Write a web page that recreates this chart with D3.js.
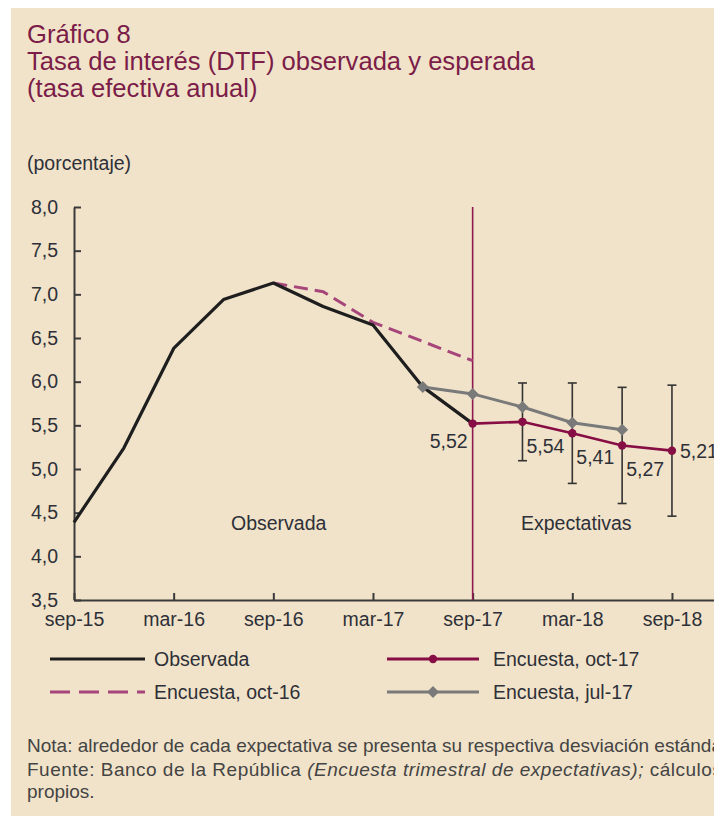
<!DOCTYPE html>
<html>
<head>
<meta charset="utf-8">
<script src="https://cdn.jsdelivr.net/npm/d3@7"></script>
<style>
  body { margin: 0; background: #fff; }
  svg { display: block; font-family: "Liberation Sans", Arial, sans-serif; }
</style>
</head>
<body>
<svg width="714" height="817"></svg>
<script>
  // trimestres, sep-15 .. dic-18
  const quarters = ['sep-15', 'dic-15', 'mar-16', 'jun-16', 'sep-16', 'dic-16', 'mar-17',
    'jun-17', 'sep-17', 'dic-17', 'mar-18', 'jun-18', 'sep-18', 'dic-18'];
  const xTickLabels = ['sep-15', 'mar-16', 'sep-16', 'mar-17', 'sep-17', 'mar-18', 'sep-18'];
  const yTicks = [3.5, 4.0, 4.5, 5.0, 5.5, 6.0, 6.5, 7.0, 7.5, 8.0];

  // series (porcentaje)
  const observadaQ = quarters.slice(0, 9);
  const observada = [4.39, 5.24, 6.38, 6.94, 7.13, 6.86, 6.65, 5.94, 5.52];
  const encOct16Q = quarters.slice(4, 9);
  const encOct16 = [7.13, 7.03, 6.68, 6.46, 6.24];
  const encJul17Q = quarters.slice(7, 12);
  const encJul17 = [5.94, 5.86, 5.71, 5.53, 5.45];
  const encOct17Q = quarters.slice(8, 13);
  const encOct17 = [5.52, 5.54, 5.41, 5.27, 5.21];
  const encOct17Desv = [0, 0.445, 0.575, 0.665, 0.75];

  const svg = d3.select('svg');
  const width = +svg.attr('width');
  const height = +svg.attr('height');

  const maroon = '#870d45';
  const pink = '#a5457a';
  const grey = '#7a7a7a';
  const ink = '#2e3038';
  const fmt = v => v.toFixed(2).replace('.', ',');

  svg.append('rect')
    .attr('x', 11).attr('y', 8)
    .attr('width', width - 11).attr('height', height - 9)
    .attr('fill', '#f1e3c9');

  // títulos
  const titles = ['Gráfico 8', 'Tasa de interés (DTF) observada y esperada', '(tasa efectiva anual)'];
  svg.selectAll('.title').data(titles)
    .enter().append('text')
      .attr('class', 'title')
      .attr('x', 27)
      .attr('y', (d, i) => 43 + i * 26.8)
      .attr('fill', '#7b1d48')
      .attr('font-size', 25.6)
      .text(d => d);

  svg.append('text')
    .attr('x', 27).attr('y', 170)
    .attr('font-size', 19.5)
    .attr('fill', ink)
    .text('(porcentaje)');

  const xScale = d3.scalePoint()
    .domain(quarters)
    .range([74, 74 + 13 * 49.83]);

  const yScale = d3.scaleLinear()
    .domain([3.5, 8])
    .range([600, 207]);

  // ejes
  const yAxis = d3.axisLeft(yScale)
    .tickValues(yTicks)
    .tickFormat(d => d.toFixed(1).replace('.', ','))
    .tickSizeInner(-7)
    .tickSizeOuter(0)
    .tickPadding(16);

  const xAxis = d3.axisBottom(xScale)
    .tickValues(xTickLabels)
    .tickSizeInner(-7)
    .tickSizeOuter(0)
    .tickPadding(12);

  const styleAxis = g => {
    g.selectAll('.domain, .tick line')
      .attr('stroke', '#3a3a3a')
      .attr('stroke-width', 2);
    g.selectAll('.tick text')
      .attr('fill', ink)
      .attr('font-size', 19.5)
      .attr('font-family', '"Liberation Sans", Arial, sans-serif');
  };

  svg.append('g')
    .attr('transform', `translate(${xScale('sep-15')},0)`)
    .call(yAxis)
    .call(styleAxis);

  svg.append('g')
    .attr('transform', `translate(0,${yScale(3.5)})`)
    .call(xAxis)
    .call(styleAxis);

  // línea vertical sep-17
  svg.append('line')
    .attr('x1', xScale('sep-17')).attr('x2', xScale('sep-17'))
    .attr('y1', yScale(8)).attr('y2', yScale(3.5))
    .attr('stroke', '#8e1a50')
    .attr('stroke-width', 1.6);

  svg.append('text')
    .attr('x', 231).attr('y', 530)
    .attr('font-size', 19.5).attr('fill', ink)
    .text('Observada');
  svg.append('text')
    .attr('x', 521).attr('y', 530)
    .attr('font-size', 19.5).attr('fill', ink)
    .text('Expectativas');

  const line = d3.line()
    .x(d => xScale(d[0]))
    .y(d => yScale(d[1]));

  const pairs = (qs, vs) => qs.map((q, i) => [q, vs[i]]);

  // desviaciones estándar
  const bars = pairs(encOct17Q, encOct17).map((d, i) => ({ q: d[0], v: d[1], s: encOct17Desv[i] }))
    .filter(d => d.s > 0);
  const barG = svg.append('g')
    .attr('stroke', '#333')
    .attr('stroke-width', 1.6);
  barG.selectAll('.bar').data(bars)
    .enter().append('line')
      .attr('x1', d => xScale(d.q)).attr('x2', d => xScale(d.q))
      .attr('y1', d => yScale(d.v + d.s)).attr('y2', d => yScale(d.v - d.s));
  barG.selectAll('.capTop').data(bars)
    .enter().append('line')
      .attr('x1', d => xScale(d.q) - 4.5).attr('x2', d => xScale(d.q) + 4.5)
      .attr('y1', d => yScale(d.v + d.s)).attr('y2', d => yScale(d.v + d.s));
  barG.selectAll('.capBot').data(bars)
    .enter().append('line')
      .attr('x1', d => xScale(d.q) - 4.5).attr('x2', d => xScale(d.q) + 4.5)
      .attr('y1', d => yScale(d.v - d.s)).attr('y2', d => yScale(d.v - d.s));

  svg.append('path')
    .datum(pairs(encOct16Q, encOct16))
    .attr('d', line)
    .attr('fill', 'none')
    .attr('stroke', pink)
    .attr('stroke-width', 3)
    .attr('stroke-dasharray', '14,7');

  svg.append('path')
    .datum(pairs(observadaQ, observada))
    .attr('d', line)
    .attr('fill', 'none')
    .attr('stroke', '#1e1e1e')
    .attr('stroke-width', 3.2)
    .attr('stroke-linejoin', 'round');

  svg.append('path')
    .datum(pairs(encJul17Q, encJul17))
    .attr('d', line)
    .attr('fill', 'none')
    .attr('stroke', grey)
    .attr('stroke-width', 3);

  const diamond = d3.symbol().type(d3.symbolSquare).size(72);
  svg.selectAll('.diamond').data(pairs(encJul17Q, encJul17))
    .enter().append('path')
      .attr('d', diamond)
      .attr('transform', d => `translate(${xScale(d[0])},${yScale(d[1])}) rotate(45)`)
      .attr('fill', grey);

  svg.append('path')
    .datum(pairs(encOct17Q, encOct17))
    .attr('d', line)
    .attr('fill', 'none')
    .attr('stroke', maroon)
    .attr('stroke-width', 2.6);

  svg.selectAll('.dot').data(pairs(encOct17Q, encOct17))
    .enter().append('circle')
      .attr('cx', d => xScale(d[0]))
      .attr('cy', d => yScale(d[1]))
      .attr('r', 4.2)
      .attr('fill', maroon);

  // etiquetas de valores
  const last = encOct17.length - 1;
  svg.selectAll('.val').data(pairs(encOct17Q, encOct17))
    .enter().append('text')
      .attr('x', (d, i) => xScale(d[0]) + (i === 0 ? -5 : i === last ? 8 : 4))
      .attr('y', (d, i) => yScale(d[1]) + (i === 0 ? 24 : i === last ? 7 : 31))
      .attr('text-anchor', (d, i) => i === 0 ? 'end' : 'start')
      .attr('font-size', 19.5)
      .attr('fill', ink)
      .text(d => fmt(d[1]));

  // leyenda
  const legend = [
    { name: 'Observada', color: '#1e1e1e', dash: null, mark: null, x: 50, y: 659 },
    { name: 'Encuesta, oct-16', color: pink, dash: '20,9', mark: null, x: 50, y: 692 },
    { name: 'Encuesta, oct-17', color: maroon, dash: null, mark: 'dot', x: 387, y: 659 },
    { name: 'Encuesta, jul-17', color: grey, dash: null, mark: 'diamond', x: 387, y: 692 }
  ];
  const lg = svg.selectAll('.legend').data(legend)
    .enter().append('g')
      .attr('transform', d => `translate(${d.x},${d.y})`);
  lg.append('line')
    .attr('x1', 0).attr('x2', d => d.x < 100 ? 95 : 92)
    .attr('stroke', d => d.color)
    .attr('stroke-width', 3.2)
    .attr('stroke-dasharray', d => d.dash);
  lg.filter(d => d.mark === 'dot').append('circle')
    .attr('cx', 46).attr('r', 4.2).attr('fill', d => d.color);
  lg.filter(d => d.mark === 'diamond').append('path')
    .attr('d', diamond)
    .attr('transform', 'translate(46,0) rotate(45)')
    .attr('fill', d => d.color);
  lg.append('text')
    .attr('x', d => d.x < 100 ? 104 : 106)
    .attr('y', 6.5)
    .attr('font-size', 19.5)
    .attr('fill', ink)
    .text(d => d.name);

  // notas
  const note = svg.append('g')
    .attr('font-size', 19)
    .attr('fill', '#444');
  note.append('text')
    .attr('x', 27).attr('y', 752)
    .text('Nota: alrededor de cada expectativa se presenta su respectiva desviación estándar.');
  const src = note.append('text')
    .attr('x', 27).attr('y', 775.5)
    .attr('letter-spacing', 0.5);
  src.append('tspan').text('Fuente: Banco de la República ');
  src.append('tspan').attr('font-style', 'italic').text('(Encuesta trimestral de expectativas);');
  src.append('tspan').text(' cálculos');
  note.append('text')
    .attr('x', 27).attr('y', 798)
    .text('propios.');
</script>
</body>
</html>
